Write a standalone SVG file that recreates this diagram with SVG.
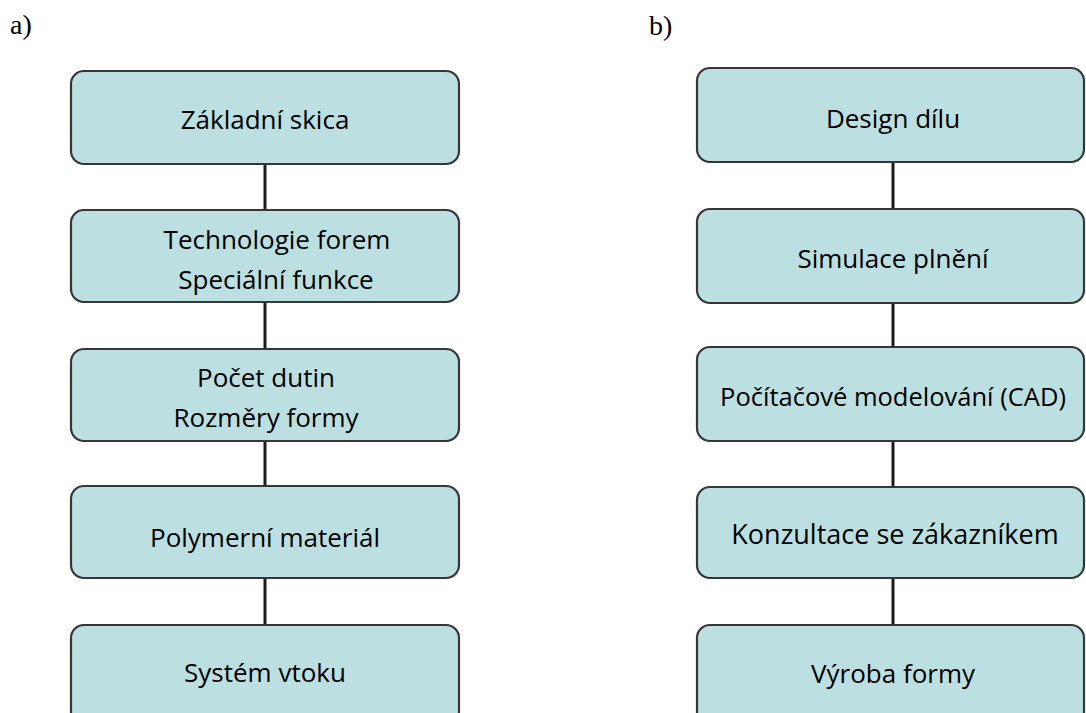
<svg xmlns="http://www.w3.org/2000/svg" width="1086" height="713" viewBox="0 0 1086 713">
  <style>
    .box { fill: #bcdfe2; stroke: #363636; stroke-width: 2.2; }
    .lbl { font-family: "Open Sans", "Noto Sans", sans-serif; font-size: 26px; fill: #000; text-anchor: middle; }
    .tag { font-family: "Liberation Serif", serif; font-size: 28px; fill: #000; }
    .conn { stroke: #1a1a1a; stroke-width: 3; fill: none; }
  </style>
  <rect width="1086" height="713" fill="#fff"/>

  <text class="tag" x="10" y="34">a)</text>
  <text class="tag" x="649" y="35">b)</text>

  <!-- connectors -->
  <g id="connectors">
    <line class="conn" x1="265" y1="164" x2="265" y2="210"/>
    <line class="conn" x1="265" y1="302" x2="265" y2="349"/>
    <line class="conn" x1="265" y1="441" x2="265" y2="486"/>
    <line class="conn" x1="265" y1="578" x2="265" y2="625"/>
    <line class="conn" x1="893" y1="162" x2="893" y2="209"/>
    <line class="conn" x1="893" y1="303" x2="893" y2="347"/>
    <line class="conn" x1="893" y1="441" x2="893" y2="487"/>
    <line class="conn" x1="893" y1="578" x2="893" y2="625"/>
  </g>

  <!-- column a -->
  <g id="a1">
    <rect class="box" x="71" y="71" width="388" height="93" rx="13"/>
    <text class="lbl" x="265" y="129">Základní skica</text>
  </g>
  <g id="a2">
    <rect class="box" x="71" y="210" width="388" height="92" rx="13"/>
    <text class="lbl" x="277" y="249">Technologie forem</text>
    <text class="lbl" x="276" y="289">Speciální funkce</text>
  </g>
  <g id="a3">
    <rect class="box" x="71" y="349" width="388" height="92" rx="13"/>
    <text class="lbl" x="266" y="387">Počet dutin</text>
    <text class="lbl" x="266" y="427">Rozměry formy</text>
  </g>
  <g id="a4">
    <rect class="box" x="71" y="486" width="388" height="92" rx="13"/>
    <text class="lbl" x="265" y="547">Polymerní materiál</text>
  </g>
  <g id="a5">
    <rect class="box" x="71" y="625" width="388" height="100" rx="13"/>
    <text class="lbl" x="265" y="682">Systém vtoku</text>
  </g>

  <!-- column b -->
  <g id="b1">
    <rect class="box" x="697" y="68" width="387" height="94" rx="13"/>
    <text class="lbl" x="893" y="128">Design dílu</text>
  </g>
  <g id="b2">
    <rect class="box" x="697" y="209" width="387" height="94" rx="13"/>
    <text class="lbl" x="893" y="268">Simulace plnění</text>
  </g>
  <g id="b3">
    <rect class="box" x="697" y="347" width="387" height="94" rx="13"/>
    <text class="lbl" x="893" y="406" style="font-size:25.5px">Počítačové modelování (CAD)</text>
  </g>
  <g id="b4">
    <rect class="box" x="697" y="487" width="387" height="91" rx="13"/>
    <text class="lbl" x="895" y="544" style="font-size:27px">Konzultace se zákazníkem</text>
  </g>
  <g id="b5">
    <rect class="box" x="697" y="625" width="387" height="100" rx="13"/>
    <text class="lbl" x="893" y="683">Výroba formy</text>
  </g>
</svg>
